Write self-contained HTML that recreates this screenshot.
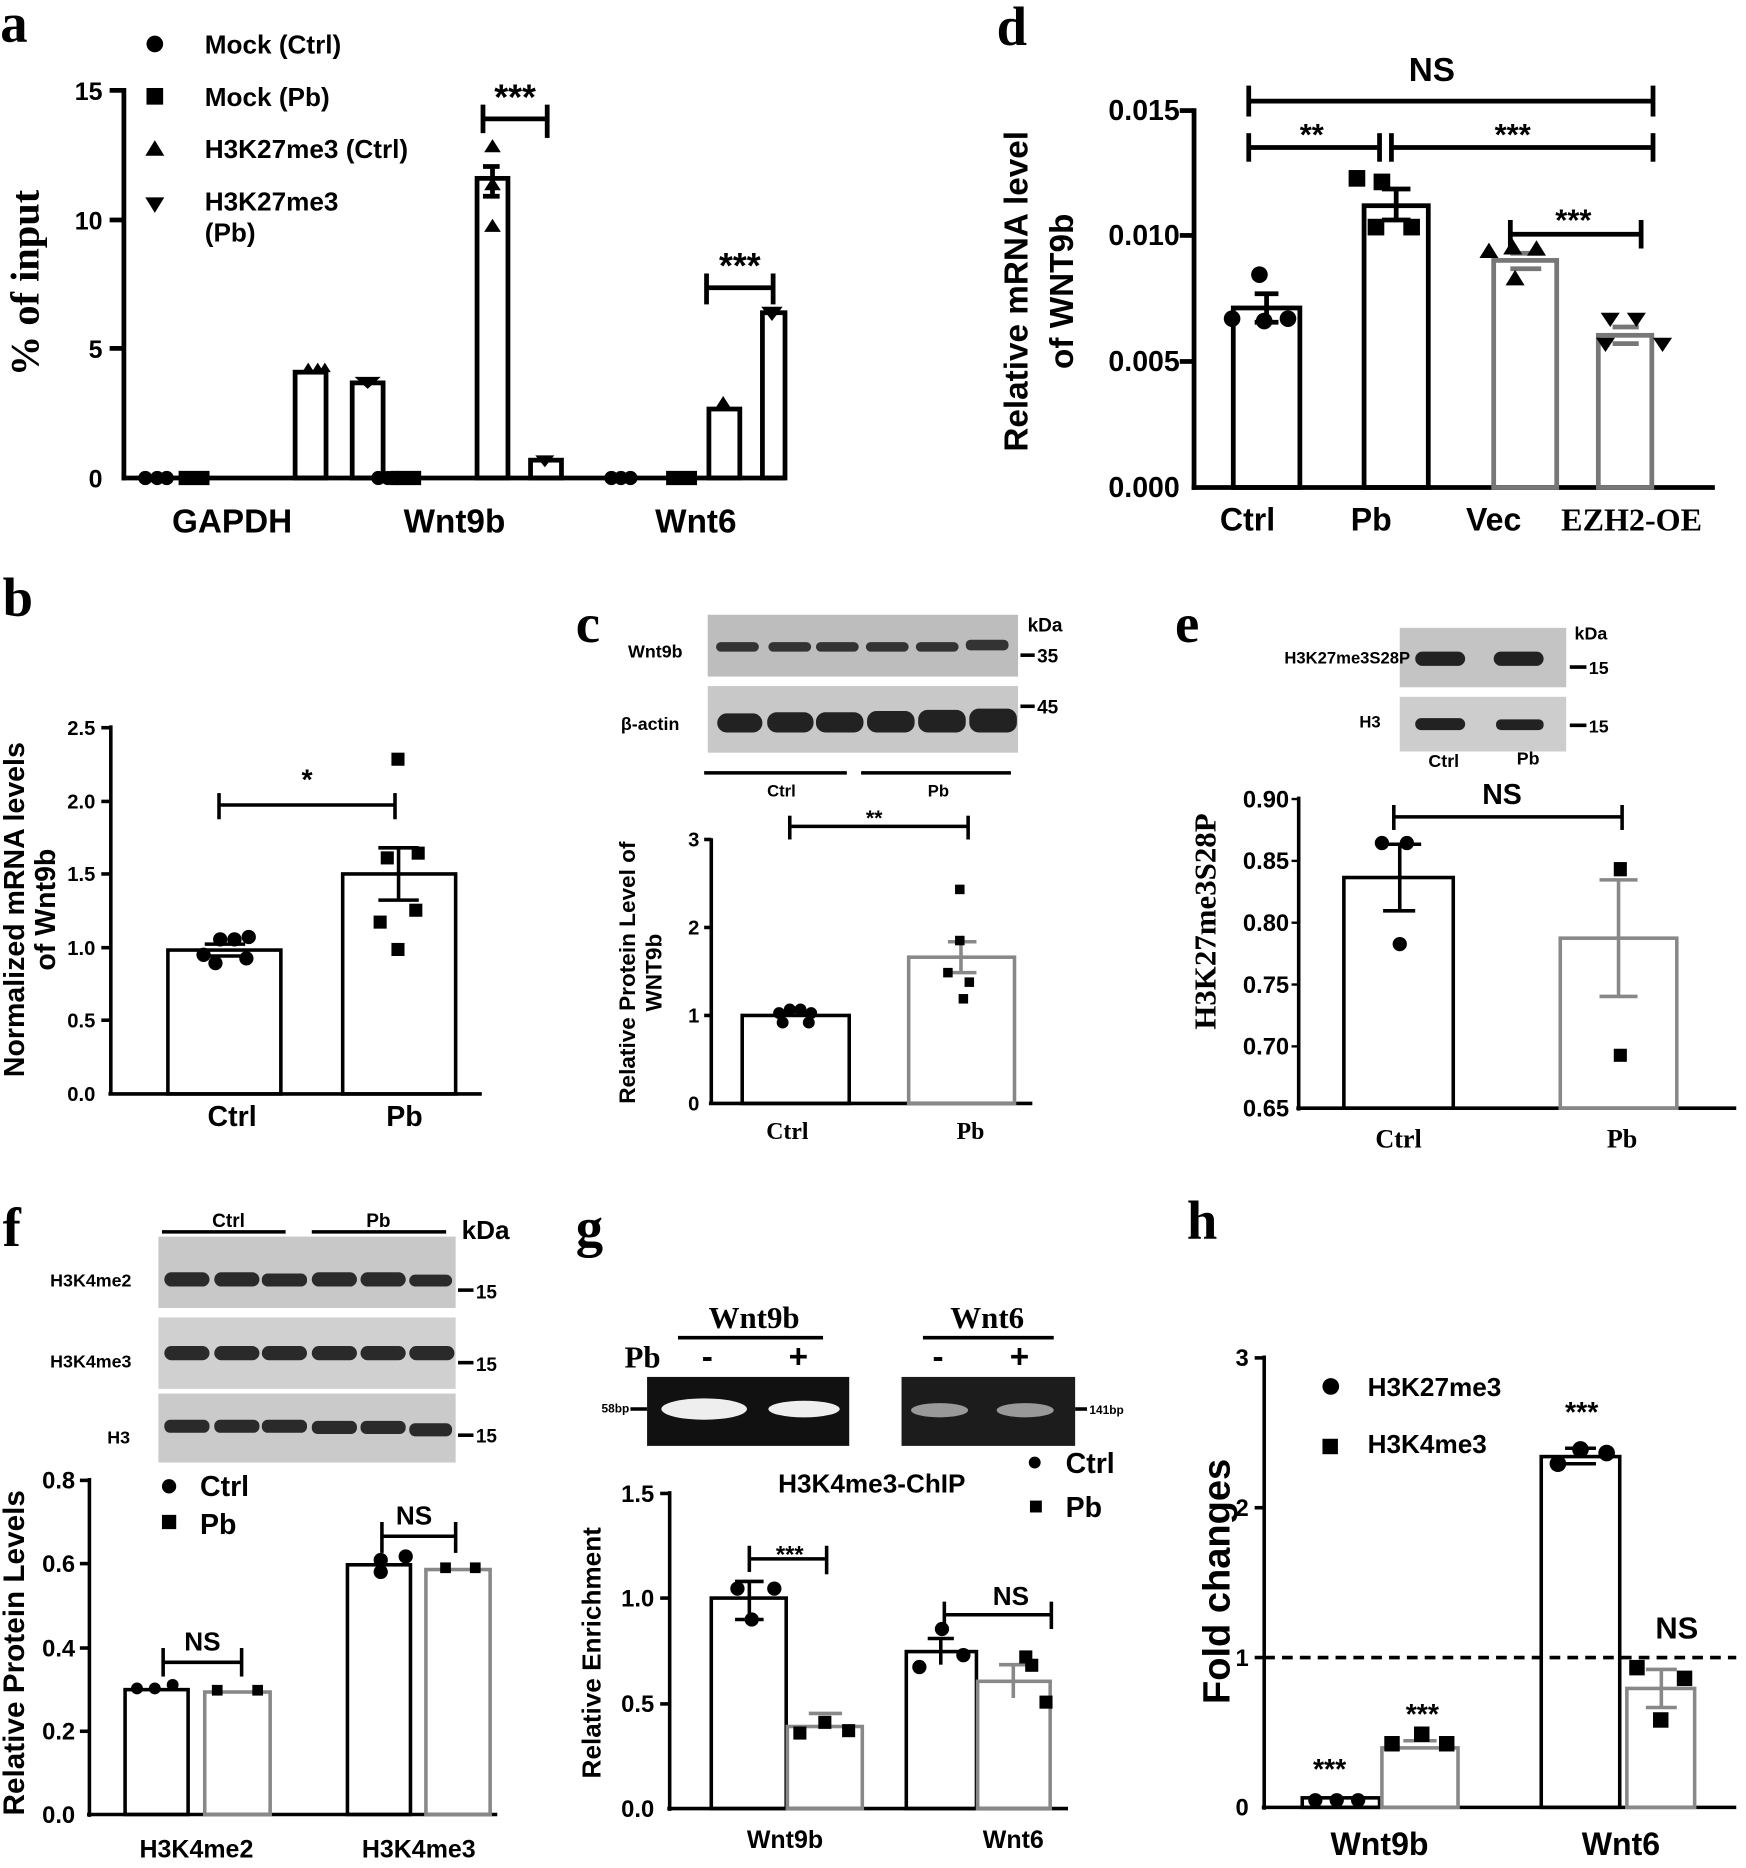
<!DOCTYPE html>
<html><head><meta charset="utf-8"><style>
html,body{margin:0;padding:0;background:#fff}
svg{display:block}
text{font-family:"Liberation Sans",sans-serif;font-weight:bold;fill:#000}
.s{font-family:"Liberation Serif",serif}
</style></head><body>
<svg width="1746" height="1868" viewBox="0 0 1468 1571" xmlns="http://www.w3.org/2000/svg">
<rect width="1468" height="1571" fill="#fff"/>
<g stroke="#000" stroke-width="4" fill="none">
<!-- ===== a ===== -->
<line x1="104" y1="74" x2="104" y2="404"/>
<line x1="102" y1="402" x2="660" y2="402"/>
<line x1="92" y1="76" x2="104" y2="76"/><line x1="92" y1="185" x2="104" y2="185"/><line x1="92" y1="293" x2="104" y2="293"/>
<rect x="248" y="313" width="26" height="89"/><rect x="296" y="322" width="26" height="80"/>
<rect x="401" y="150" width="26" height="252"/><rect x="446" y="387" width="26" height="15"/>
<rect x="596" y="344" width="26" height="58"/><rect x="641" y="263" width="19" height="139"/>
<line x1="414" y1="140" x2="414" y2="165"/><line x1="406" y1="140" x2="420" y2="140"/><line x1="406" y1="165" x2="420" y2="165"/>
<line x1="406" y1="100" x2="460" y2="100"/><line x1="406" y1="88" x2="406" y2="112"/><line x1="460" y1="88" x2="460" y2="116"/>
<line x1="594" y1="242" x2="650" y2="242"/><line x1="594" y1="230" x2="594" y2="256"/><line x1="650" y1="230" x2="650" y2="256"/>
</g>
<g fill="#000">
<text x="0" y="35" class="s" font-size="46">a</text>
<circle cx="130" cy="37" r="7"/><rect x="123" y="74" width="14" height="14"/><path d="M130 118l8 13h-16z"/><path d="M122 166h16l-8 13z"/>
<text x="172" y="45" font-size="22">Mock (Ctrl)</text><text x="172" y="89" font-size="22">Mock (Pb)</text>
<text x="172" y="133" font-size="22">H3K27me3 (Ctrl)</text><text x="172" y="177" font-size="22">H3K27me3</text><text x="172" y="203" font-size="22">(Pb)</text>
<text x="86" y="84" font-size="21" text-anchor="end">15</text><text x="86" y="193" font-size="21" text-anchor="end">10</text><text x="86" y="301" font-size="21" text-anchor="end">5</text><text x="86" y="410" font-size="21" text-anchor="end">0</text>
<text transform="translate(32,238) rotate(-90)" class="s" font-size="34" text-anchor="middle">% of input</text>
<text x="195" y="448" font-size="28" text-anchor="middle">GAPDH</text><text x="382" y="448" font-size="28" text-anchor="middle">Wnt9b</text><text x="585" y="448" font-size="28" text-anchor="middle">Wnt6</text>
<text x="433" y="92" font-size="30" text-anchor="middle">***</text><text x="622" y="234" font-size="30" text-anchor="middle">***</text>
<circle cx="122" cy="402" r="6"/><circle cx="132" cy="402" r="6"/><circle cx="140" cy="402" r="6"/>
<rect x="150" y="396" width="26" height="12"/><rect x="328" y="396" width="26" height="12"/><rect x="560" y="396" width="26" height="12"/>
<circle cx="318" cy="402" r="6"/><circle cx="326" cy="402" r="6"/><circle cx="334" cy="402" r="6"/>
<circle cx="514" cy="402" r="6"/><circle cx="522" cy="402" r="6"/><circle cx="530" cy="402" r="6"/>
<path d="M254 313l5-8 5 8zM262 313l5-8 5 8zM268 313l5-8 5 8z"/><path d="M298 317h22l-11 10z"/>
<path d="M407 128l7-11 7 11zM407 160l7-11 7 11zM407 195l7-11 7 11z"/><path d="M450 383h16l-8 10z"/>
<path d="M601 344l7-11 7 11z"/><path d="M640 258h18l-9 12z"/>
</g>
<!-- ===== d ===== -->
<g stroke="#000" stroke-width="4" fill="none">
<line x1="1004" y1="91" x2="1004" y2="412"/><line x1="1002" y1="410" x2="1442" y2="410"/>
<line x1="992" y1="93" x2="1004" y2="93"/><line x1="992" y1="198" x2="1004" y2="198"/><line x1="992" y1="304" x2="1004" y2="304"/>
<rect x="1037" y="259" width="56" height="151"/><rect x="1147" y="173" width="54" height="237"/>
<line x1="1065" y1="247" x2="1065" y2="271"/><line x1="1055" y1="247" x2="1075" y2="247"/><line x1="1055" y1="271" x2="1075" y2="271"/>
<line x1="1174" y1="159" x2="1174" y2="185"/><line x1="1162" y1="159" x2="1186" y2="159"/><line x1="1162" y1="185" x2="1186" y2="185"/>
<line x1="1050" y1="85" x2="1390" y2="85"/><line x1="1050" y1="72" x2="1050" y2="98"/><line x1="1390" y1="72" x2="1390" y2="98"/>
<line x1="1050" y1="124" x2="1160" y2="124"/><line x1="1050" y1="112" x2="1050" y2="136"/><line x1="1160" y1="112" x2="1160" y2="136"/>
<line x1="1170" y1="124" x2="1390" y2="124"/><line x1="1170" y1="112" x2="1170" y2="136"/><line x1="1390" y1="112" x2="1390" y2="136"/>
<line x1="1270" y1="197" x2="1380" y2="197"/><line x1="1270" y1="185" x2="1270" y2="209"/><line x1="1380" y1="185" x2="1380" y2="209"/>
</g>
<g stroke="#777" stroke-width="4" fill="none">
<rect x="1256" y="219" width="53" height="191"/><rect x="1344" y="282" width="45" height="128"/>
<line x1="1270" y1="213" x2="1296" y2="213"/><line x1="1270" y1="226" x2="1296" y2="226"/>
<line x1="1356" y1="275" x2="1378" y2="275"/><line x1="1356" y1="289" x2="1378" y2="289"/>
</g>
<g fill="#000">
<text x="838" y="38" class="s" font-size="46">d</text>
<text x="1204" y="68" font-size="28" text-anchor="middle">NS</text><text x="1103" y="122" font-size="26" text-anchor="middle">**</text><text x="1272" y="122" font-size="26" text-anchor="middle">***</text><text x="1323" y="194" font-size="26" text-anchor="middle">***</text>
<text x="992" y="101" font-size="24" text-anchor="end">0.015</text><text x="992" y="206" font-size="24" text-anchor="end">0.010</text><text x="992" y="312" font-size="24" text-anchor="end">0.005</text><text x="992" y="418" font-size="24" text-anchor="end">0.000</text>
<text transform="translate(864,245) rotate(-90)" font-size="28" text-anchor="middle">Relative mRNA level</text>
<text transform="translate(902,245) rotate(-90)" font-size="28" text-anchor="middle">of WNT9b</text>
<text x="1049" y="446" font-size="27" text-anchor="middle">Ctrl</text><text x="1153" y="446" font-size="27" text-anchor="middle">Pb</text><text x="1256" y="446" font-size="27" text-anchor="middle">Vec</text><text x="1372" y="446" class="s" font-size="27" text-anchor="middle">EZH2-OE</text>
<circle cx="1059" cy="231" r="7"/><circle cx="1036" cy="268" r="7"/><circle cx="1083" cy="268" r="7"/><circle cx="1063" cy="270" r="7"/>
<rect x="1134" y="143" width="14" height="14"/><rect x="1155" y="146" width="14" height="14"/><rect x="1180" y="184" width="14" height="14"/><rect x="1150" y="184" width="14" height="14"/>
<path d="M1244 217l8-13 8 13zM1264 214l8-13 8 13zM1284 215l8-13 8 13zM1266 240l8-13 8 13z"/>
<path d="M1346 263h16l-8 12zM1368 263h16l-8 12zM1390 284h16l-8 12zM1342 284h16l-8 12z"/>
</g>
<!-- ===== b ===== -->
<g stroke="#000" stroke-width="3" fill="none">
<line x1="93" y1="610" x2="93" y2="921"/><line x1="91" y1="920" x2="405" y2="920"/>
<line x1="85" y1="612" x2="93" y2="612"/><line x1="85" y1="674" x2="93" y2="674"/><line x1="85" y1="735" x2="93" y2="735"/><line x1="85" y1="797" x2="93" y2="797"/><line x1="85" y1="858" x2="93" y2="858"/>
<rect x="141" y="799" width="95" height="121"/><rect x="288" y="735" width="95" height="185"/>
<line x1="172" y1="794" x2="206" y2="794"/><line x1="172" y1="804" x2="206" y2="804"/>
<line x1="335" y1="713" x2="335" y2="757"/><line x1="318" y1="713" x2="352" y2="713"/><line x1="318" y1="757" x2="352" y2="757"/>
<line x1="184" y1="677" x2="332" y2="677"/><line x1="184" y1="667" x2="184" y2="689"/><line x1="332" y1="667" x2="332" y2="689"/>
</g>
<g fill="#000">
<text x="2" y="518" class="s" font-size="46">b</text>
<text x="258" y="664" font-size="24" text-anchor="middle">*</text>
<g font-size="17" text-anchor="end"><text x="80" y="618">2.5</text><text x="80" y="680">2.0</text><text x="80" y="741">1.5</text><text x="80" y="803">1.0</text><text x="80" y="864">0.5</text><text x="80" y="926">0.0</text></g>
<text transform="translate(20,765) rotate(-90)" font-size="24" text-anchor="middle">Normalized mRNA levels</text>
<text transform="translate(46,765) rotate(-90)" font-size="24" text-anchor="middle">of Wnt9b</text>
<text x="195" y="947" font-size="24" text-anchor="middle">Ctrl</text><text x="340" y="947" font-size="24" text-anchor="middle">Pb</text>
<circle cx="171" cy="803" r="6"/><circle cx="185" cy="790" r="6"/><circle cx="197" cy="790" r="6"/><circle cx="209" cy="788" r="6"/><circle cx="181" cy="810" r="6"/><circle cx="207" cy="806" r="6"/>
<rect x="329" y="633" width="11" height="11"/><rect x="346" y="712" width="11" height="11"/><rect x="320" y="716" width="11" height="11"/><rect x="344" y="760" width="11" height="11"/><rect x="314" y="770" width="11" height="11"/><rect x="329" y="793" width="11" height="11"/>
</g>
<!-- ===== c ===== -->
<rect x="595" y="517" width="261" height="52" fill="#bdbdbd"/><rect x="595" y="577" width="261" height="56" fill="#c8c8c8"/>
<g fill="#333"><rect x="602" y="540" width="36" height="8" rx="4"/><rect x="646" y="540" width="36" height="8" rx="4"/><rect x="686" y="540" width="36" height="8" rx="4"/><rect x="728" y="540" width="36" height="8" rx="4"/><rect x="770" y="540" width="36" height="8" rx="4"/><rect x="812" y="538" width="36" height="9" rx="4"/></g>
<g fill="#222"><rect x="603" y="600" width="38" height="16" rx="8"/><rect x="645" y="599" width="39" height="17" rx="8"/><rect x="686" y="599" width="40" height="17" rx="8"/><rect x="729" y="598" width="40" height="18" rx="8"/><rect x="772" y="597" width="40" height="19" rx="8"/><rect x="815" y="596" width="40" height="20" rx="8"/></g>
<g stroke="#000" stroke-width="3" fill="none">
<line x1="592" y1="650" x2="712" y2="650"/><line x1="724" y1="650" x2="850" y2="650"/>
<line x1="858" y1="551" x2="870" y2="551"/><line x1="858" y1="594" x2="870" y2="594"/>
<line x1="598" y1="705" x2="598" y2="929"/><line x1="596" y1="928" x2="868" y2="928"/>
<line x1="592" y1="706" x2="598" y2="706"/><line x1="592" y1="780" x2="598" y2="780"/><line x1="592" y1="854" x2="598" y2="854"/>
<rect x="624" y="854" width="90" height="74"/>
<line x1="664" y1="695" x2="814" y2="695"/><line x1="664" y1="686" x2="664" y2="706"/><line x1="814" y1="686" x2="814" y2="706"/>
<line x1="655" y1="851" x2="680" y2="851"/>
</g>
<g stroke="#888" stroke-width="3" fill="none"><rect x="764" y="805" width="89" height="123"/><line x1="808" y1="792" x2="808" y2="818"/><line x1="797" y1="792" x2="821" y2="792"/><line x1="797" y1="818" x2="821" y2="818"/></g>
<g fill="#000">
<text x="484" y="540" class="s" font-size="46">c</text>
<text x="528" y="553" font-size="15">Wnt9b</text><text x="522" y="614" font-size="15">β-actin</text>
<text x="864" y="531" font-size="16">kDa</text><text x="872" y="557" font-size="16">35</text><text x="872" y="600" font-size="16">45</text>
<text x="657" y="670" font-size="14" text-anchor="middle">Ctrl</text><text x="789" y="670" font-size="14" text-anchor="middle">Pb</text>
<text x="735" y="694" font-size="18" text-anchor="middle">**</text>
<g font-size="17" text-anchor="end"><text x="588" y="712">3</text><text x="588" y="786">2</text><text x="588" y="860">1</text><text x="588" y="934">0</text></g>
<text transform="translate(534,818) rotate(-90)" font-size="19" text-anchor="middle">Relative Protein Level of</text>
<text transform="translate(556,818) rotate(-90)" font-size="19" text-anchor="middle">WNT9b</text>
<text x="662" y="958" class="s" font-size="20" text-anchor="middle">Ctrl</text><text x="816" y="958" class="s" font-size="20" text-anchor="middle">Pb</text>
<circle cx="655" cy="852" r="5"/><circle cx="664" cy="849" r="5"/><circle cx="673" cy="849" r="5"/><circle cx="682" cy="852" r="5"/><circle cx="658" cy="860" r="5"/><circle cx="680" cy="860" r="5"/>
<rect x="803" y="744" width="8" height="8"/><rect x="803" y="787" width="8" height="8"/><rect x="793" y="814" width="8" height="8"/><rect x="811" y="822" width="8" height="8"/><rect x="806" y="836" width="8" height="8"/>
</g>
<!-- ===== e ===== -->
<rect x="1177" y="528" width="140" height="50" fill="#c4c4c4"/><rect x="1177" y="586" width="140" height="46" fill="#cdcdcd"/>
<g fill="#222"><rect x="1190" y="548" width="42" height="12" rx="6"/><rect x="1256" y="548" width="42" height="12" rx="6"/><rect x="1190" y="604" width="42" height="10" rx="5"/><rect x="1258" y="605" width="40" height="9" rx="4"/></g>
<g stroke="#000" stroke-width="3" fill="none"><line x1="1320" y1="561" x2="1334" y2="561"/><line x1="1320" y1="610" x2="1334" y2="610"/>
<line x1="1092" y1="670" x2="1092" y2="934"/><line x1="1090" y1="932" x2="1460" y2="932"/>
<g stroke-width="2"><line x1="1086" y1="672" x2="1092" y2="672"/><line x1="1086" y1="724" x2="1092" y2="724"/><line x1="1086" y1="776" x2="1092" y2="776"/><line x1="1086" y1="828" x2="1092" y2="828"/><line x1="1086" y1="880" x2="1092" y2="880"/></g>
<rect x="1130" y="738" width="92" height="194"/>
<line x1="1177" y1="710" x2="1177" y2="766"/><line x1="1163" y1="710" x2="1195" y2="710"/><line x1="1163" y1="766" x2="1190" y2="766"/>
<line x1="1172" y1="687" x2="1364" y2="687"/><line x1="1172" y1="677" x2="1172" y2="698"/><line x1="1364" y1="677" x2="1364" y2="698"/>
</g>
<g stroke="#888" stroke-width="3" fill="none"><rect x="1312" y="789" width="98" height="143"/><line x1="1361" y1="740" x2="1361" y2="838"/><line x1="1345" y1="740" x2="1377" y2="740"/><line x1="1345" y1="838" x2="1377" y2="838"/></g>
<g fill="#000">
<text x="988" y="540" class="s" font-size="46">e</text>
<text x="1080" y="558" font-size="14">H3K27me3S28P</text><text x="1143" y="612" font-size="14">H3</text>
<text x="1324" y="538" font-size="15">kDa</text><text x="1336" y="567" font-size="15">15</text><text x="1336" y="616" font-size="15">15</text>
<text x="1214" y="645" font-size="15" text-anchor="middle">Ctrl</text><text x="1285" y="643" font-size="15" text-anchor="middle">Pb</text>
<text x="1263" y="676" font-size="24" text-anchor="middle">NS</text>
<g class="s" font-size="20" text-anchor="end"><text x="1084" y="679">0.90</text><text x="1084" y="731">0.85</text><text x="1084" y="783">0.80</text><text x="1084" y="835">0.75</text><text x="1084" y="887">0.70</text><text x="1084" y="939">0.65</text></g>
<text transform="translate(1022,775) rotate(-90)" class="s" font-size="26" text-anchor="middle">H3K27me3S28P</text>
<text x="1176" y="965" class="s" font-size="22" text-anchor="middle">Ctrl</text><text x="1364" y="965" class="s" font-size="22" text-anchor="middle">Pb</text>
<circle cx="1162" cy="709" r="6"/><circle cx="1183" cy="709" r="6"/><circle cx="1177" cy="794" r="6"/>
<rect x="1357" y="725" width="11" height="12"/><rect x="1357" y="882" width="11" height="11"/>
</g>
<!-- ===== f ===== -->
<rect x="133" y="1040" width="250" height="60" fill="#c8c8c8"/><rect x="133" y="1108" width="250" height="60" fill="#d0d0d0"/><rect x="133" y="1172" width="250" height="58" fill="#cacaca"/>
<g fill="#2a2a2a"><rect x="138" y="1070" width="38" height="12" rx="6"/><rect x="180" y="1070" width="38" height="12" rx="6"/><rect x="220" y="1071" width="38" height="11" rx="5"/><rect x="262" y="1070" width="38" height="12" rx="6"/><rect x="303" y="1070" width="38" height="12" rx="6"/><rect x="344" y="1072" width="36" height="10" rx="5"/>
<rect x="138" y="1132" width="38" height="12" rx="6"/><rect x="180" y="1132" width="38" height="12" rx="6"/><rect x="220" y="1132" width="38" height="12" rx="6"/><rect x="262" y="1132" width="38" height="12" rx="6"/><rect x="303" y="1132" width="38" height="12" rx="6"/><rect x="344" y="1132" width="38" height="12" rx="6"/>
<rect x="138" y="1194" width="38" height="11" rx="5"/><rect x="180" y="1194" width="38" height="11" rx="5"/><rect x="220" y="1194" width="38" height="11" rx="5"/><rect x="262" y="1195" width="38" height="11" rx="5"/><rect x="303" y="1195" width="38" height="11" rx="5"/><rect x="344" y="1197" width="36" height="11" rx="5"/></g>
<g stroke="#000" stroke-width="3" fill="none">
<line x1="136" y1="1036" x2="240" y2="1036"/><line x1="262" y1="1036" x2="375" y2="1036"/>
<line x1="385" y1="1085" x2="398" y2="1085"/><line x1="385" y1="1146" x2="398" y2="1146"/><line x1="385" y1="1207" x2="398" y2="1207"/>
<line x1="75" y1="1243" x2="75" y2="1528"/><line x1="73" y1="1526" x2="418" y2="1526"/>
<line x1="67" y1="1245" x2="75" y2="1245"/><line x1="67" y1="1315" x2="75" y2="1315"/><line x1="67" y1="1386" x2="75" y2="1386"/><line x1="67" y1="1456" x2="75" y2="1456"/>
<rect x="105" y="1421" width="53" height="105"/><rect x="292" y="1316" width="53" height="210"/>
<line x1="137" y1="1398" x2="203" y2="1398"/><line x1="137" y1="1386" x2="137" y2="1410"/><line x1="203" y1="1386" x2="203" y2="1410"/>
<line x1="321" y1="1292" x2="383" y2="1292"/><line x1="321" y1="1280" x2="321" y2="1306"/><line x1="383" y1="1280" x2="383" y2="1306"/>
</g>
<g stroke="#888" stroke-width="3" fill="none"><rect x="172" y="1423" width="55" height="103"/><rect x="358" y="1320" width="54" height="206"/></g>
<g fill="#000">
<text x="2" y="1048" class="s" font-size="46">f</text>
<text x="192" y="1032" font-size="16" text-anchor="middle">Ctrl</text><text x="318" y="1032" font-size="16" text-anchor="middle">Pb</text><text x="388" y="1042" font-size="22">kDa</text>
<text x="42" y="1082" font-size="15">H3K4me2</text><text x="42" y="1150" font-size="15">H3K4me3</text><text x="90" y="1214" font-size="15">H3</text>
<text x="400" y="1092" font-size="16">15</text><text x="400" y="1153" font-size="16">15</text><text x="400" y="1213" font-size="16">15</text>
<circle cx="142" cy="1250" r="6"/><text x="168" y="1258" font-size="24">Ctrl</text><rect x="136" y="1274" width="12" height="12"/><text x="168" y="1290" font-size="24">Pb</text>
<g font-size="20" text-anchor="end"><text x="63" y="1252">0.8</text><text x="63" y="1322">0.6</text><text x="63" y="1393">0.4</text><text x="63" y="1463">0.2</text><text x="63" y="1533">0.0</text></g>
<text transform="translate(20,1390) rotate(-90)" font-size="25" text-anchor="middle">Relative Protein Levels</text>
<text x="165" y="1562" font-size="21" text-anchor="middle">H3K4me2</text><text x="352" y="1562" font-size="21" text-anchor="middle">H3K4me3</text>
<text x="170" y="1388" font-size="22" text-anchor="middle">NS</text><text x="348" y="1282" font-size="22" text-anchor="middle">NS</text>
<circle cx="115" cy="1420" r="5"/><circle cx="130" cy="1420" r="5"/><circle cx="145" cy="1417" r="5"/><rect x="178" y="1417" width="9" height="9"/><rect x="212" y="1417" width="9" height="9"/>
<circle cx="320" cy="1312" r="6"/><circle cx="320" cy="1322" r="6"/><circle cx="341" cy="1309" r="6"/><rect x="370" y="1314" width="9" height="9"/><rect x="395" y="1314" width="9" height="9"/>
</g>
<!-- ===== g ===== -->
<rect x="544" y="1158" width="170" height="58" fill="#111"/><rect x="758" y="1158" width="146" height="58" fill="#1c1c1c"/>
<g fill="#eee"><ellipse cx="592" cy="1185" rx="36" ry="9"/><ellipse cx="676" cy="1185" rx="30" ry="7"/></g>
<g fill="#999"><ellipse cx="790" cy="1186" rx="24" ry="6"/><ellipse cx="862" cy="1186" rx="24" ry="6"/></g>
<g stroke="#000" stroke-width="3" fill="none">
<line x1="570" y1="1125" x2="692" y2="1125"/><line x1="776" y1="1125" x2="886" y2="1125"/>
<line x1="530" y1="1185" x2="544" y2="1185"/><line x1="904" y1="1185" x2="914" y2="1185"/>
<line x1="563" y1="1254" x2="563" y2="1523"/><line x1="561" y1="1521" x2="898" y2="1521"/>
<line x1="555" y1="1256" x2="563" y2="1256"/><line x1="555" y1="1344" x2="563" y2="1344"/><line x1="555" y1="1433" x2="563" y2="1433"/>
<rect x="598" y="1344" width="63" height="177"/><rect x="762" y="1389" width="59" height="132"/>
<line x1="630" y1="1330" x2="630" y2="1362"/><line x1="618" y1="1330" x2="642" y2="1330"/><line x1="618" y1="1362" x2="642" y2="1362"/>
<line x1="791" y1="1378" x2="791" y2="1400"/><line x1="780" y1="1378" x2="802" y2="1378"/>
<line x1="630" y1="1311" x2="695" y2="1311"/><line x1="630" y1="1300" x2="630" y2="1322"/><line x1="695" y1="1300" x2="695" y2="1324"/>
<line x1="794" y1="1358" x2="884" y2="1358"/><line x1="884" y1="1347" x2="884" y2="1370"/><line x1="794" y1="1347" x2="794" y2="1368"/>
</g>
<g stroke="#888" stroke-width="3" fill="none"><rect x="662" y="1452" width="63" height="69"/><rect x="822" y="1414" width="61" height="107"/><line x1="680" y1="1441" x2="708" y2="1441"/><line x1="840" y1="1400" x2="866" y2="1400"/><line x1="852" y1="1400" x2="852" y2="1428"/></g>
<g fill="#000">
<text x="484" y="1048" class="s" font-size="46">g</text>
<text x="634" y="1117" class="s" font-size="26" text-anchor="middle">Wnt9b</text><text x="830" y="1117" class="s" font-size="26" text-anchor="middle">Wnt6</text>
<text x="525" y="1150" class="s" font-size="26">Pb</text>
<text x="590" y="1150" font-size="28">-</text><text x="663" y="1150" font-size="28">+</text><text x="784" y="1150" font-size="28">-</text><text x="849" y="1150" font-size="28">+</text>
<text x="529" y="1188" font-size="10" text-anchor="end">58bp</text><text x="916" y="1189" font-size="10">141bp</text>
<text x="733" y="1255" font-size="22" text-anchor="middle">H3K4me3-ChIP</text>
<circle cx="870" cy="1230" r="5"/><text x="896" y="1239" font-size="24">Ctrl</text><rect x="866" y="1262" width="10" height="10"/><text x="896" y="1276" font-size="24">Pb</text>
<g font-size="20" text-anchor="end"><text x="550" y="1263">1.5</text><text x="550" y="1351">1.0</text><text x="550" y="1440">0.5</text><text x="550" y="1528">0.0</text></g>
<text transform="translate(505,1390) rotate(-90)" font-size="22" text-anchor="middle">Relative Enrichment</text>
<text x="660" y="1554" font-size="21" text-anchor="middle">Wnt9b</text><text x="852" y="1554" font-size="21" text-anchor="middle">Wnt6</text>
<text x="664" y="1314" font-size="20" text-anchor="middle">***</text><text x="850" y="1350" font-size="22" text-anchor="middle">NS</text>
<circle cx="620" cy="1336" r="6"/><circle cx="651" cy="1336" r="6"/><circle cx="632" cy="1362" r="6"/>
<rect x="667" y="1452" width="11" height="11"/><rect x="688" y="1443" width="11" height="11"/><rect x="708" y="1450" width="11" height="11"/>
<circle cx="773" cy="1402" r="6"/><circle cx="792" cy="1370" r="6"/><circle cx="810" cy="1392" r="6"/>
<rect x="857" y="1388" width="11" height="11"/><rect x="874" y="1426" width="11" height="11"/><rect x="862" y="1395" width="11" height="11"/>
</g>
<!-- ===== h ===== -->
<g stroke="#000" stroke-width="3" fill="none">
<line x1="1063" y1="1140" x2="1063" y2="1522"/><line x1="1061" y1="1520" x2="1460" y2="1520"/>
<line x1="1055" y1="1142" x2="1063" y2="1142"/><line x1="1055" y1="1268" x2="1063" y2="1268"/><line x1="1055" y1="1394" x2="1063" y2="1394"/>
<line x1="1063" y1="1394" x2="1460" y2="1394" stroke-dasharray="9,6"/>
<rect x="1095" y="1512" width="65" height="8"/><rect x="1296" y="1225" width="66" height="295"/>
<line x1="1316" y1="1218" x2="1342" y2="1218"/><line x1="1316" y1="1231" x2="1342" y2="1231"/>
</g>
<g stroke="#888" stroke-width="3" fill="none"><rect x="1162" y="1470" width="64" height="50"/><rect x="1368" y="1420" width="57" height="100"/><line x1="1180" y1="1464" x2="1208" y2="1464"/><line x1="1397" y1="1404" x2="1397" y2="1436"/><line x1="1384" y1="1404" x2="1410" y2="1404"/><line x1="1384" y1="1436" x2="1410" y2="1436"/></g>
<g fill="#000">
<text x="998" y="1042" class="s" font-size="46">h</text>
<circle cx="1119" cy="1166" r="7"/><text x="1150" y="1174" font-size="22">H3K27me3</text><rect x="1112" y="1210" width="13" height="13"/><text x="1150" y="1222" font-size="22">H3K4me3</text>
<g font-size="20" text-anchor="end"><text x="1050" y="1149">3</text><text x="1050" y="1275">2</text><text x="1050" y="1401">1</text><text x="1050" y="1527">0</text></g>
<text transform="translate(1034,1330) rotate(-90)" font-size="32" text-anchor="middle">Fold changes</text>
<text x="1160" y="1560" font-size="27" text-anchor="middle">Wnt9b</text><text x="1363" y="1560" font-size="27" text-anchor="middle">Wnt6</text>
<text x="1118" y="1496" font-size="24" text-anchor="middle">***</text><text x="1196" y="1450" font-size="24" text-anchor="middle">***</text><text x="1330" y="1196" font-size="24" text-anchor="middle">***</text><text x="1410" y="1378" font-size="26" text-anchor="middle">NS</text>
<circle cx="1106" cy="1514" r="6"/><circle cx="1124" cy="1514" r="6"/><circle cx="1142" cy="1514" r="6"/>
<rect x="1164" y="1460" width="13" height="13"/><rect x="1189" y="1452" width="13" height="13"/><rect x="1210" y="1460" width="13" height="13"/>
<circle cx="1310" cy="1231" r="7"/><circle cx="1329" cy="1219" r="7"/><circle cx="1351" cy="1222" r="7"/>
<rect x="1370" y="1396" width="13" height="13"/><rect x="1410" y="1405" width="13" height="13"/><rect x="1390" y="1440" width="13" height="13"/>
</g>
</svg>
</body></html>
